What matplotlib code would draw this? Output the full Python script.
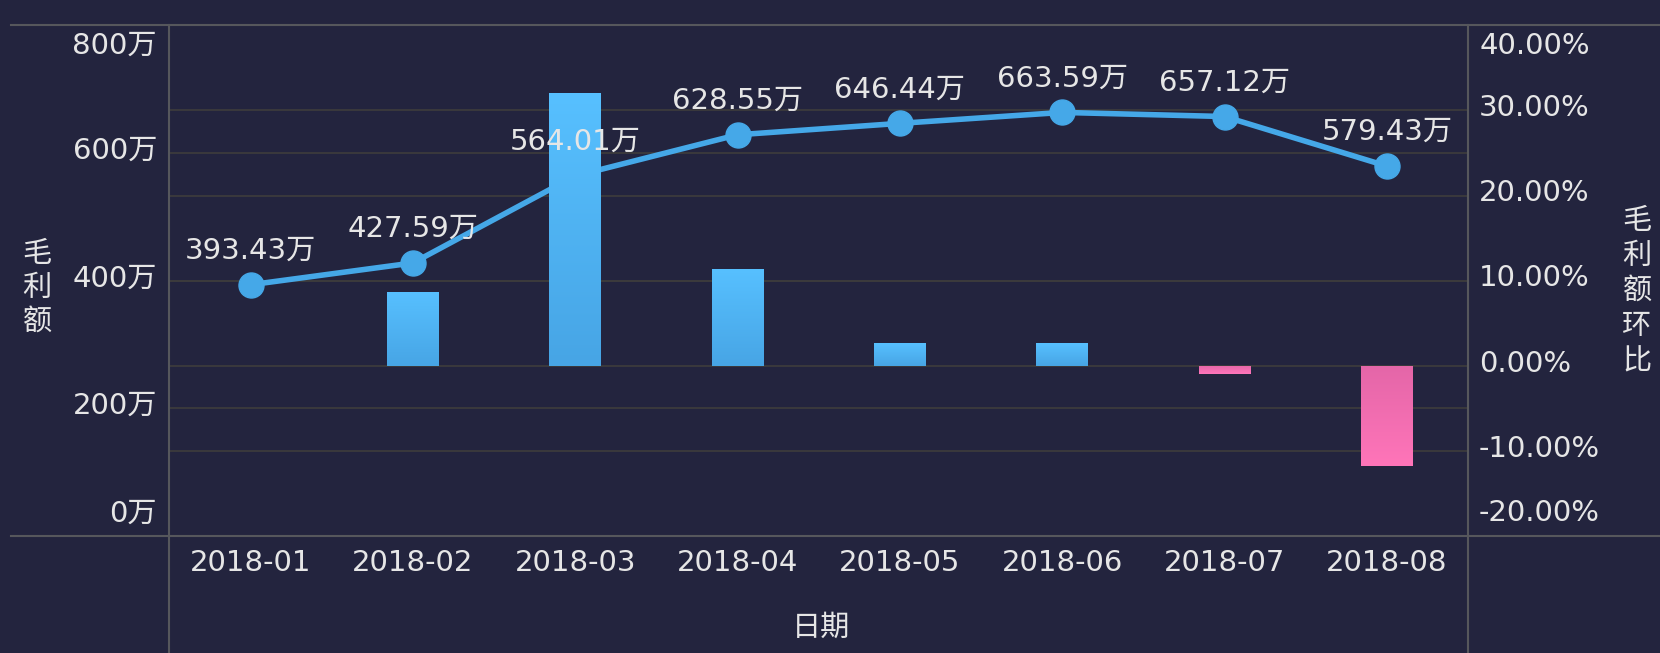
import matplotlib
matplotlib.use('Agg')
import matplotlib.pyplot as plt
import numpy as np
from matplotlib.transforms import blended_transform_factory
from matplotlib.lines import Line2D

plt.rcParams['font.family'] = ['DejaVu Sans', 'Noto Sans CJK SC']

# ---- data ----
months = ['2018-01', '2018-02', '2018-03', '2018-04', '2018-05', '2018-06', '2018-07', '2018-08']
profit = [393.43, 427.59, 564.01, 628.55, 646.44, 663.59, 657.12, 579.43]   # 毛利额 (万)
mom = [0.0, 8.6, 32.0, 11.4, 2.6, 2.6, -1.0, -11.8]                          # 毛利额环比 (%)
left_ticks = [0, 200, 400, 600, 800]
right_ticks = [-20, -10, 0, 10, 20, 30, 40]
left_title = '毛利额'
right_title = '毛利额环比'
x_title = '日期'

# ---- style ----
W, H = 1660, 653
BG = '#23243e'
GRID = '#3c3b3c'
FRAME = '#56575c'
TXT = '#e6e6e6'
LINEC = '#45a8e8'
FS = 21
CJK = ['Noto Sans CJK SC', 'DejaVu Sans']

fig = plt.figure(figsize=(W / 100, H / 100), dpi=100)
fig.patch.set_facecolor(BG)
L, R, T, B = 169.4, 1468.0, 25.4, 535.7
ax = fig.add_axes([L / W, 1 - B / H, (R - L) / W, (B - T) / H])
ax.set_facecolor(BG)
ax2 = ax.twinx()

x = np.arange(len(months))
ax.set_xlim(-0.5, len(months) - 0.5)
ax.set_ylim(left_ticks[0], left_ticks[-1])
ax2.set_ylim(right_ticks[0], right_ticks[-1])

for a in (ax, ax2):
    for s in a.spines.values():
        s.set_visible(False)
    a.set_xticks([])
    a.set_yticks([])

# gridlines (both scales) drawn on the bottom axes
for v in left_ticks[1:-1]:
    ax.axhline(v, color=GRID, lw=1.3, zorder=1)
tr_r = blended_transform_factory(ax.transAxes, ax2.transData)
for v in right_ticks[1:-1]:
    ax.plot([0, 1], [v, v], color=GRID, lw=1.3, transform=tr_r, zorder=1)

# line series (left axis)
ax.plot(x, profit, color=LINEC, lw=4, marker='o', markersize=18,
        markerfacecolor=LINEC, markeredgecolor=LINEC, zorder=3, clip_on=False)

# bar series (right axis) with vertical gradients
bw = 0.32
bars = ax2.bar(x, mom, width=bw, color='none', edgecolor='none', zorder=3)
pos_cmap = matplotlib.colors.LinearSegmentedColormap.from_list('p', ['#47a5e5', '#57c0ff'])
neg_cmap = matplotlib.colors.LinearSegmentedColormap.from_list('n', ['#ff75b9', '#e466a8'])
grad = np.linspace(0, 1, 256).reshape(-1, 1)
for b, v in zip(bars, mom):
    if v == 0:
        continue
    x0, w = b.get_x(), b.get_width()
    y0, y1 = min(0, v), max(0, v)
    cm = pos_cmap if v > 0 else neg_cmap
    im = ax2.imshow(grad, cmap=cm, origin='lower', aspect='auto',
                    extent=[x0, x0 + w, y0, y1], zorder=3, interpolation='bilinear')
    im.set_clip_path(b)
ax.set_xlim(-0.5, len(months) - 0.5)
ax2.set_xlim(-0.5, len(months) - 0.5)
ax2.set_ylim(right_ticks[0], right_ticks[-1])

# data labels above the line points (drawn above bars)
for i, v in enumerate(profit):
    ax2.annotate(f'{v:.2f}万', xy=(i, v), xycoords=ax.transData,
                 xytext=(0, 24.5), textcoords='offset points',
                 ha='center', va='center', color=TXT, fontsize=FS, zorder=10,
                 annotation_clip=False)

# left tick labels
for v in left_ticks:
    dy = 1.5
    if v == left_ticks[-1]:
        dy = -14.5
    elif v == left_ticks[0]:
        dy = 16
    ax.annotate(f'{v}万', xy=(0, v), xycoords=ax.get_yaxis_transform(),
                xytext=(-9, dy), textcoords='offset points',
                ha='right', va='center', color=TXT, fontsize=FS, annotation_clip=False)

# right tick labels
for v in right_ticks:
    dy = 1.5
    if v == right_ticks[-1]:
        dy = -14.5
    elif v == right_ticks[0]:
        dy = 16
    ax2.annotate(f'{v:.2f}%', xy=(1, v), xycoords=ax2.get_yaxis_transform(),
                 xytext=(8, dy), textcoords='offset points',
                 ha='left', va='center', color=TXT, fontsize=FS, annotation_clip=False)

# x tick labels
for i, m in enumerate(months):
    ax.annotate(m, xy=(i, 0), xycoords=ax.get_xaxis_transform(),
                xytext=(0, -20), textcoords='offset points',
                ha='center', va='center', color=TXT, fontsize=FS, annotation_clip=False)

# axis titles
fig.text(821 / W, 1 - 628 / H, x_title, ha='center', va='center', color=TXT,
         fontsize=FS, family=CJK)
for k, ch in enumerate(left_title):
    yc = 254 + 34 * k
    fig.text(37 / W, 1 - yc / H, ch, ha='center', va='center', color=TXT,
             fontsize=FS, family=CJK)
for k, ch in enumerate(right_title):
    yc = 221 + 35 * k
    fig.text(1637 / W, 1 - yc / H, ch, ha='center', va='center', color=TXT,
             fontsize=FS, family=CJK)

# frame lines
def fline(x0, y0, x1, y1):
    fig.add_artist(Line2D([x0 / W, x1 / W], [1 - y0 / H, 1 - y1 / H],
                          color=FRAME, lw=1.5, transform=fig.transFigure))

fline(11, T, W, T)
fline(11, B, W, B)
fline(L, T, L, H)
fline(R, T, R, H)

fig.savefig('out.png', dpi=100, facecolor=BG)
